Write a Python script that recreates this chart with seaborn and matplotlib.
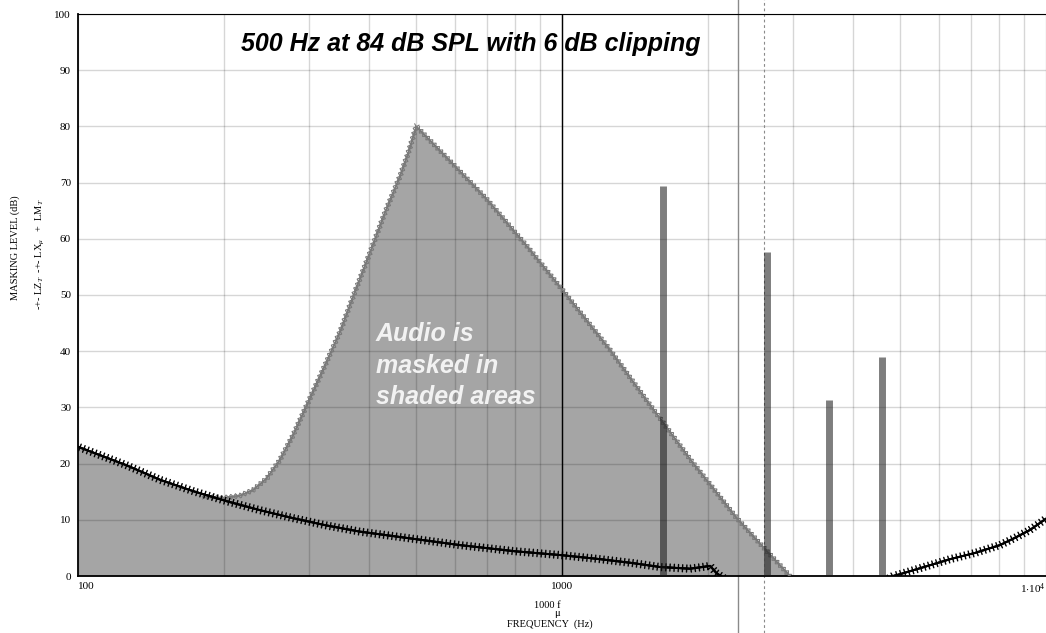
import numpy as np
import matplotlib
matplotlib.use("Agg")
import matplotlib.pyplot as plt
import matplotlib.patheffects as pe
from matplotlib.ticker import LogLocator, NullFormatter, FixedLocator
import seaborn as sns

# threshold in quiet (black "+" curve)
thr_freq = [100, 126, 148, 173, 203, 238, 278, 326, 382, 448, 525, 615, 800, 1000,
            1198, 1400, 1594, 1838, 1950, 2023, 2086, 2172, 2500, 3000, 3500, 4000,
            4500, 4830, 4984, 5500, 6340, 7130, 8035, 8630, 9270, 10000]
thr_db = [23.0, 19.7, 17.1, 15.1, 13.3, 11.7, 10.3, 9.0, 7.9, 7.1, 6.3, 5.5, 4.4, 3.7,
          3.0, 2.3, 1.6, 1.3, 1.6, 1.8, 0.5, -0.5, -3.0, -4.5, -5.0, -3.5,
          -1.5, 0.0, 0.3, 1.4, 3.0, 4.1, 5.5, 6.8, 8.2, 10.2]

# masking curve of the 500 Hz tone (grey curve)
mask_freq = [181, 200, 216, 230, 245, 261, 278, 297, 320, 348, 375, 401, 430, 462, 480,
             500, 600, 700, 850, 1000, 1250, 1521, 1850, 2297, 2600, 2958]
mask_db = [14.1, 13.9, 14.3, 15.3, 17.3, 20.6, 25.0, 30.4, 36.5, 43.5, 51.0, 57.5, 64.5,
           71.0, 75.0, 80.0, 73.0, 67.0, 58.5, 51.0, 40.5, 30.4, 20.5, 10.3, 5.2, 0.0]

# clipping distortion harmonics
bar_freq = [1620, 2652, 3565, 4582]
bar_db = [69.4, 57.6, 31.3, 39.0]

# extra frequency markers
solid_mark = 2314
dash_mark = 2618

sns.set_style("white")
plt.rcParams["font.family"] = ["Liberation Serif", "DejaVu Serif"]
plt.rcParams["mathtext.fontset"] = "custom"
plt.rcParams["mathtext.rm"] = "Liberation Serif"
plt.rcParams["mathtext.it"] = "Liberation Serif:italic"

W, H = 1046, 633
fig = plt.figure(figsize=(W / 100, H / 100), dpi=100)
ax = fig.add_axes([78 / W, 57 / H, (W - 78) / W, 562 / H])

shade = "#a5a5a5"
ax.fill_between(mask_freq, 0, mask_db, color=shade, lw=0, zorder=1)
thr_f = np.array(thr_freq)
thr_v = np.array(thr_db)
keep = thr_f <= 2086
ax.fill_between(thr_f[keep], 0, thr_v[keep], color=shade, lw=0, zorder=1)

# masking curve, "x" style markers
mask_fx = [pe.withTickedStroke(angle=a, spacing=3.4, length=0.7, linewidth=0.8)
           for a in (45, -135, 135, -45)]
sns.lineplot(x=mask_freq, y=mask_db, ax=ax, color="#7a7a7a", lw=0.8, estimator=None,
             path_effects=mask_fx + [pe.Normal()], zorder=3)

# threshold curve, "+" style markers
thr_fx = [pe.withTickedStroke(angle=a, spacing=3.0, length=0.85, linewidth=1.0)
          for a in (90, -90)]
sns.lineplot(x=thr_freq, y=thr_db, ax=ax, color="black", lw=1.4, estimator=None,
             path_effects=thr_fx + [pe.Normal()], zorder=4)

# harmonics as thin bars
ax.vlines(bar_freq, 0, bar_db, colors="#151515", alpha=0.55, lw=5.0, zorder=5)

ax.axvline(1000, color="black", lw=1.0, zorder=2.5)
ax.axvline(solid_mark, ymin=-0.102, ymax=1.026, color="#8a8a8a", lw=1.0, clip_on=False)
ax.axvline(dash_mark, ymin=-0.102, ymax=1.026, color="#8a8a8a", lw=0.8,
           ls=(0, (2.5, 2.5)), clip_on=False)

ax.set_xscale("log")
ax.set_xlim(100, 10000)
ax.set_ylim(0, 100)
ax.xaxis.set_major_locator(FixedLocator([100, 1000, 10000]))
ax.set_xticklabels(["100", "1000", r"1$\cdot$10$^{4}$"])
ax.xaxis.set_minor_locator(LogLocator(base=10, subs=range(2, 10)))
ax.xaxis.set_minor_formatter(NullFormatter())
ax.set_yticks(range(0, 101, 10))
ax.tick_params(axis="both", which="both", length=0, labelsize=8, labelcolor="black")
ax.tick_params(axis="x", pad=4)
ax.tick_params(axis="y", pad=5)
labs = ax.get_xticklabels()
labs[0].set_horizontalalignment("left")
labs[-1].set_horizontalalignment("right")

ax.set_axisbelow("line")
ax.grid(which="both", axis="x", color="black", alpha=0.16, lw=1)
ax.grid(which="major", axis="y", color="black", alpha=0.16, lw=1)

for side in ("left", "bottom"):
    ax.spines[side].set_color("black")
    ax.spines[side].set_linewidth(1.3)
ax.spines["top"].set_color("black")
ax.spines["top"].set_linewidth(0.8)
ax.spines["right"].set_visible(False)
ax.set_xlabel("")
ax.set_ylabel("")


def px(x, y):
    return x / W, 1 - y / H


fig.text(*px(471, 44), "500 Hz at 84 dB SPL with 6 dB clipping", ha="center", va="center",
         fontsize=18, fontweight="bold", fontstyle="italic", family="Liberation Sans",
         color="black")
fig.text(*px(376, 322), "Audio is\nmasked in\nshaded areas", ha="left", va="top",
         fontsize=18, fontweight="bold", fontstyle="italic", family="Liberation Sans",
         color="#f2f2f2", linespacing=1.4)

fig.text(*px(547, 605), "1000 f", ha="center", va="center", fontsize=7.5, color="black")
fig.text(*px(557, 614), "\u03bc", ha="center", va="center", fontsize=7.5, color="black")
fig.text(*px(550, 624), "FREQUENCY  (Hz)", ha="center", va="center", fontsize=7.5,
         color="black")

fig.text(*px(15, 248), "MASKING LEVEL (dB)", rotation=90, ha="center", va="center",
         fontsize=7.5, color="black")
fig.text(*px(40, 254), r"-+- LZ$_{T}$  -+- LX$_{\mu}$   +  LM$_{T}$", rotation=90,
         ha="center", va="center", fontsize=7.5, color="black")

fig.savefig("out.png", dpi=100)
